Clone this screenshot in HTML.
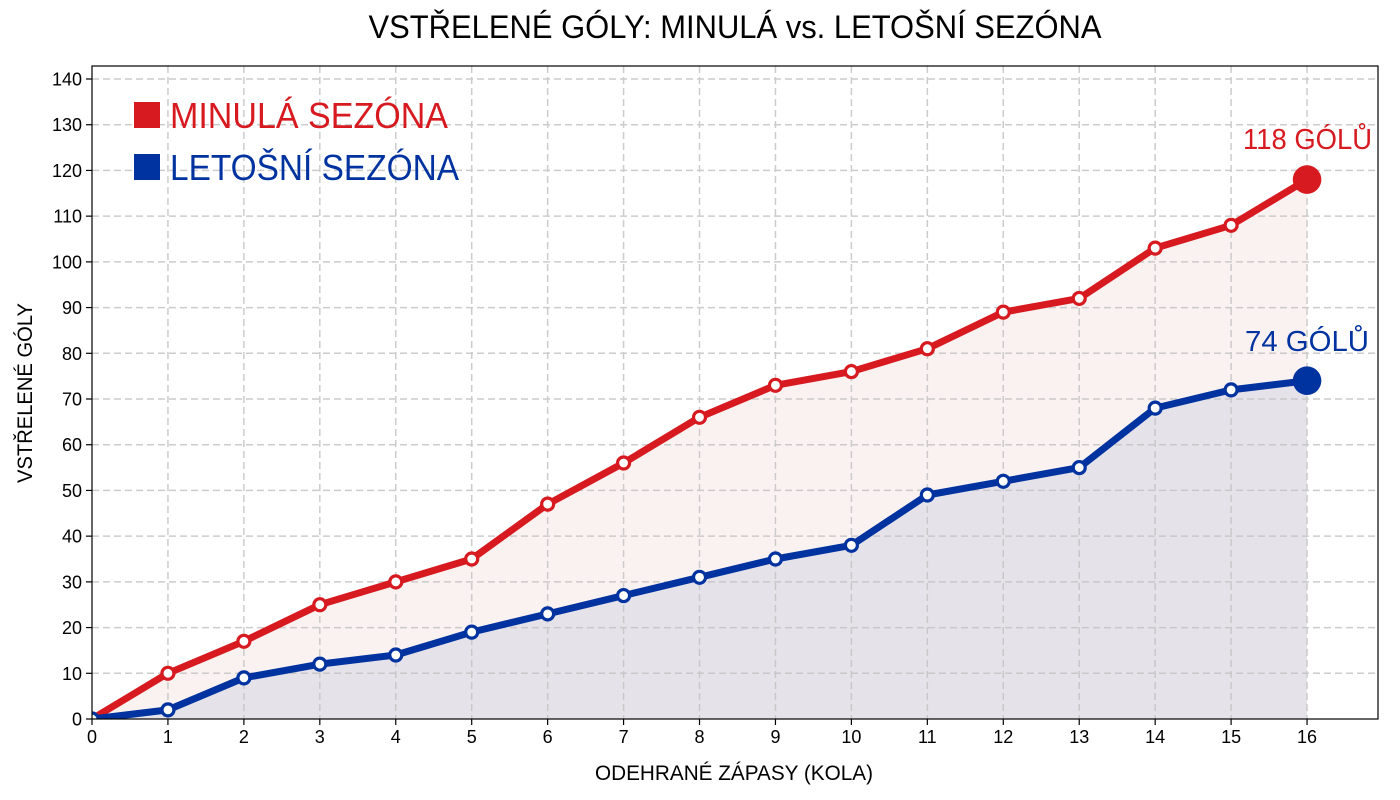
<!DOCTYPE html>
<html><head><meta charset="utf-8"><style>
html,body{margin:0;padding:0;background:#fff;}
svg{display:block;font-family:"Liberation Sans",sans-serif;}
</style></head><body>
<svg width="1400" height="800" viewBox="0 0 1400 800" xmlns="http://www.w3.org/2000/svg">
<defs><clipPath id="pc"><rect x="92" y="66" width="1286" height="653"/></clipPath></defs>
<rect width="1400" height="800" fill="#fff"/>
<text x="735" y="38" font-size="32" text-anchor="middle" textLength="733" lengthAdjust="spacingAndGlyphs" fill="#000">VSTŘELENÉ GÓLY: MINULÁ vs. LETOŠNÍ SEZÓNA</text>
<g clip-path="url(#pc)">
<polygon fill="#faf2f1" points="92,719 92,719 167.94,673.29 243.88,641.29 319.82,604.71 395.76,581.86 471.7,559 547.64,504.14 623.58,463 699.52,417.29 775.46,385.29 851.4,371.57 927.34,348.71 1003.28,312.14 1079.22,298.43 1155.16,248.14 1231.1,225.29 1307.04,179.57 1307.04,719"/>
<polygon fill="#e6e2ea" points="92,719 92,719 167.94,709.86 243.88,677.86 319.82,664.14 395.76,655 471.7,632.14 547.64,613.86 623.58,595.57 699.52,577.29 775.46,559 851.4,545.29 927.34,495 1003.28,481.29 1079.22,467.57 1155.16,408.14 1231.1,389.86 1307.04,380.71 1307.04,719"/>
<g stroke="#c4c4c4" stroke-width="1.5" stroke-dasharray="7,4" opacity="0.85">
<line x1="167.94" y1="66" x2="167.94" y2="719"/><line x1="243.88" y1="66" x2="243.88" y2="719"/><line x1="319.82" y1="66" x2="319.82" y2="719"/><line x1="395.76" y1="66" x2="395.76" y2="719"/><line x1="471.7" y1="66" x2="471.7" y2="719"/><line x1="547.64" y1="66" x2="547.64" y2="719"/><line x1="623.58" y1="66" x2="623.58" y2="719"/><line x1="699.52" y1="66" x2="699.52" y2="719"/><line x1="775.46" y1="66" x2="775.46" y2="719"/><line x1="851.4" y1="66" x2="851.4" y2="719"/><line x1="927.34" y1="66" x2="927.34" y2="719"/><line x1="1003.28" y1="66" x2="1003.28" y2="719"/><line x1="1079.22" y1="66" x2="1079.22" y2="719"/><line x1="1155.16" y1="66" x2="1155.16" y2="719"/><line x1="1231.1" y1="66" x2="1231.1" y2="719"/><line x1="1307.04" y1="66" x2="1307.04" y2="719"/>
<line x1="92" y1="673.29" x2="1378" y2="673.29"/><line x1="92" y1="627.57" x2="1378" y2="627.57"/><line x1="92" y1="581.86" x2="1378" y2="581.86"/><line x1="92" y1="536.14" x2="1378" y2="536.14"/><line x1="92" y1="490.43" x2="1378" y2="490.43"/><line x1="92" y1="444.71" x2="1378" y2="444.71"/><line x1="92" y1="399" x2="1378" y2="399"/><line x1="92" y1="353.29" x2="1378" y2="353.29"/><line x1="92" y1="307.57" x2="1378" y2="307.57"/><line x1="92" y1="261.86" x2="1378" y2="261.86"/><line x1="92" y1="216.14" x2="1378" y2="216.14"/><line x1="92" y1="170.43" x2="1378" y2="170.43"/><line x1="92" y1="124.71" x2="1378" y2="124.71"/><line x1="92" y1="79" x2="1378" y2="79"/>
</g>
<polyline fill="none" stroke="#d71920" stroke-width="7" stroke-linejoin="round" stroke-linecap="round" points="92,719 167.94,673.29 243.88,641.29 319.82,604.71 395.76,581.86 471.7,559 547.64,504.14 623.58,463 699.52,417.29 775.46,385.29 851.4,371.57 927.34,348.71 1003.28,312.14 1079.22,298.43 1155.16,248.14 1231.1,225.29 1307.04,179.57"/>
<g fill="#fff" stroke="#d71920" stroke-width="3.2">
<circle cx="92" cy="719" r="6"/><circle cx="167.94" cy="673.29" r="6"/><circle cx="243.88" cy="641.29" r="6"/><circle cx="319.82" cy="604.71" r="6"/><circle cx="395.76" cy="581.86" r="6"/><circle cx="471.7" cy="559" r="6"/><circle cx="547.64" cy="504.14" r="6"/><circle cx="623.58" cy="463" r="6"/><circle cx="699.52" cy="417.29" r="6"/><circle cx="775.46" cy="385.29" r="6"/><circle cx="851.4" cy="371.57" r="6"/><circle cx="927.34" cy="348.71" r="6"/><circle cx="1003.28" cy="312.14" r="6"/><circle cx="1079.22" cy="298.43" r="6"/><circle cx="1155.16" cy="248.14" r="6"/><circle cx="1231.1" cy="225.29" r="6"/>
</g>
<circle cx="1307.04" cy="179.57" r="14.3" fill="#d71920"/>
<polyline fill="none" stroke="#00339f" stroke-width="7" stroke-linejoin="round" stroke-linecap="round" points="92,719 167.94,709.86 243.88,677.86 319.82,664.14 395.76,655 471.7,632.14 547.64,613.86 623.58,595.57 699.52,577.29 775.46,559 851.4,545.29 927.34,495 1003.28,481.29 1079.22,467.57 1155.16,408.14 1231.1,389.86 1307.04,380.71"/>
<g fill="#fff" stroke="#00339f" stroke-width="3.2">
<circle cx="92" cy="719" r="6"/><circle cx="167.94" cy="709.86" r="6"/><circle cx="243.88" cy="677.86" r="6"/><circle cx="319.82" cy="664.14" r="6"/><circle cx="395.76" cy="655" r="6"/><circle cx="471.7" cy="632.14" r="6"/><circle cx="547.64" cy="613.86" r="6"/><circle cx="623.58" cy="595.57" r="6"/><circle cx="699.52" cy="577.29" r="6"/><circle cx="775.46" cy="559" r="6"/><circle cx="851.4" cy="545.29" r="6"/><circle cx="927.34" cy="495" r="6"/><circle cx="1003.28" cy="481.29" r="6"/><circle cx="1079.22" cy="467.57" r="6"/><circle cx="1155.16" cy="408.14" r="6"/><circle cx="1231.1" cy="389.86" r="6"/>
</g>
<circle cx="1307.04" cy="380.71" r="14.3" fill="#00339f"/>
</g>
<rect x="92" y="66" width="1286" height="653" fill="none" stroke="#000" stroke-width="1.2"/>
<g stroke="#000" stroke-width="1.2">
<line x1="92" y1="719" x2="92" y2="725"/><line x1="167.94" y1="719" x2="167.94" y2="725"/><line x1="243.88" y1="719" x2="243.88" y2="725"/><line x1="319.82" y1="719" x2="319.82" y2="725"/><line x1="395.76" y1="719" x2="395.76" y2="725"/><line x1="471.7" y1="719" x2="471.7" y2="725"/><line x1="547.64" y1="719" x2="547.64" y2="725"/><line x1="623.58" y1="719" x2="623.58" y2="725"/><line x1="699.52" y1="719" x2="699.52" y2="725"/><line x1="775.46" y1="719" x2="775.46" y2="725"/><line x1="851.4" y1="719" x2="851.4" y2="725"/><line x1="927.34" y1="719" x2="927.34" y2="725"/><line x1="1003.28" y1="719" x2="1003.28" y2="725"/><line x1="1079.22" y1="719" x2="1079.22" y2="725"/><line x1="1155.16" y1="719" x2="1155.16" y2="725"/><line x1="1231.1" y1="719" x2="1231.1" y2="725"/><line x1="1307.04" y1="719" x2="1307.04" y2="725"/>
<line x1="86" y1="719" x2="92" y2="719"/><line x1="86" y1="673.29" x2="92" y2="673.29"/><line x1="86" y1="627.57" x2="92" y2="627.57"/><line x1="86" y1="581.86" x2="92" y2="581.86"/><line x1="86" y1="536.14" x2="92" y2="536.14"/><line x1="86" y1="490.43" x2="92" y2="490.43"/><line x1="86" y1="444.71" x2="92" y2="444.71"/><line x1="86" y1="399" x2="92" y2="399"/><line x1="86" y1="353.29" x2="92" y2="353.29"/><line x1="86" y1="307.57" x2="92" y2="307.57"/><line x1="86" y1="261.86" x2="92" y2="261.86"/><line x1="86" y1="216.14" x2="92" y2="216.14"/><line x1="86" y1="170.43" x2="92" y2="170.43"/><line x1="86" y1="124.71" x2="92" y2="124.71"/><line x1="86" y1="79" x2="92" y2="79"/>
</g>
<g font-size="18" fill="#000" text-anchor="middle">
<text x="92" y="743">0</text><text x="167.94" y="743">1</text><text x="243.88" y="743">2</text><text x="319.82" y="743">3</text><text x="395.76" y="743">4</text><text x="471.7" y="743">5</text><text x="547.64" y="743">6</text><text x="623.58" y="743">7</text><text x="699.52" y="743">8</text><text x="775.46" y="743">9</text><text x="851.4" y="743">10</text><text x="927.34" y="743">11</text><text x="1003.28" y="743">12</text><text x="1079.22" y="743">13</text><text x="1155.16" y="743">14</text><text x="1231.1" y="743">15</text><text x="1307.04" y="743">16</text>
</g>
<g font-size="18" fill="#000" text-anchor="end">
<text x="82" y="725.5">0</text><text x="82" y="679.8">10</text><text x="82" y="634.1">20</text><text x="82" y="588.4">30</text><text x="82" y="542.6">40</text><text x="82" y="496.9">50</text><text x="82" y="451.2">60</text><text x="82" y="405.5">70</text><text x="82" y="359.8">80</text><text x="82" y="314.1">90</text><text x="82" y="268.4">100</text><text x="82" y="222.6">110</text><text x="82" y="176.9">120</text><text x="82" y="131.2">130</text><text x="82" y="85.5">140</text>
</g>
<text x="734" y="780" font-size="21" text-anchor="middle" textLength="278" lengthAdjust="spacingAndGlyphs" fill="#000">ODEHRANÉ ZÁPASY (KOLA)</text>
<text transform="translate(32,393) rotate(-90)" x="0" y="0" font-size="21" text-anchor="middle" textLength="180" lengthAdjust="spacingAndGlyphs" fill="#000">VSTŘELENÉ GÓLY</text>
<rect x="134" y="102" width="26" height="26" fill="#d71920"/>
<text x="170" y="128" font-size="36" textLength="278" lengthAdjust="spacingAndGlyphs" fill="#d71920">MINULÁ SEZÓNA</text>
<rect x="134" y="154" width="26" height="26" fill="#00339f"/>
<text x="170" y="180" font-size="36" textLength="289" lengthAdjust="spacingAndGlyphs" fill="#00339f">LETOŠNÍ SEZÓNA</text>
<text x="1243" y="149" font-size="29" textLength="129" lengthAdjust="spacingAndGlyphs" fill="#d71920">118 GÓLŮ</text>
<text x="1245" y="351" font-size="29" textLength="124" lengthAdjust="spacingAndGlyphs" fill="#00339f">74 GÓLŮ</text>
</svg>
</body></html>
